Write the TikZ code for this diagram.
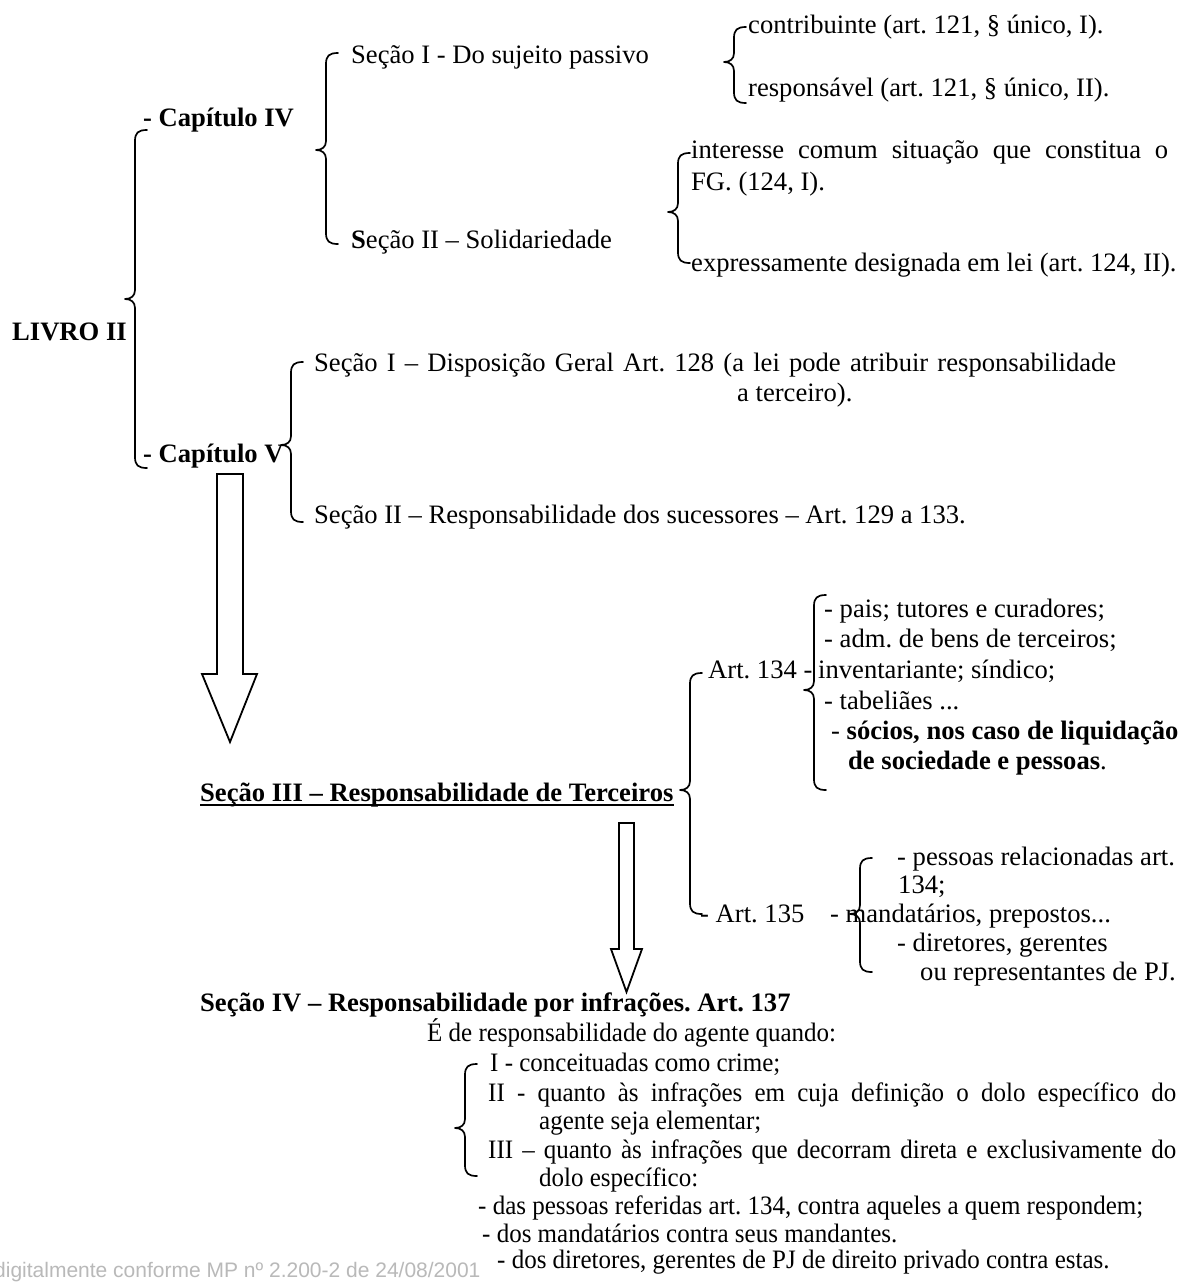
\documentclass[tikz,border=0pt]{standalone}
\usepackage{fontspec}
\setmainfont{Liberation Serif}
\newfontfamily\condfont[FakeStretch=0.94]{Liberation Serif}
\newfontfamily\wmfont{Liberation Sans}
\frenchspacing
\newcommand\wbrace[4]{% x, top, tip, bottom
\draw[brc] (#1+12,#2) .. controls (#1+3,#2) and (#1,#2+3) .. (#1,#2+11) -- (#1,#3-9) .. controls (#1,#3-3) and (#1-4,#3) .. (#1-10,#3) .. controls (#1-4,#3) and (#1,#3+3) .. (#1,#3+9) -- (#1,#4-11) .. controls (#1,#4-3) and (#1+3,#4) .. (#1+12,#4);}
\begin{document}
\begin{tikzpicture}[x=1pt,y=-1pt,
 txt/.style={anchor=base west, yshift=-8pt, inner sep=0pt, font=\fontsize{26.6}{30}\selectfont},
 ctxt/.style={anchor=base west, yshift=-8pt, inner sep=0pt, font=\condfont\fontsize{26.6}{28}\selectfont},
 brc/.style={line width=1.7pt, line cap=round, line join=round},
 blk/.style={line width=1.8pt, line join=miter, fill=white},
 wm/.style={anchor=base west, yshift=-7pt, inner sep=0pt, font=\wmfont\fontsize{21}{21}\selectfont, text=gray!55}]
\fill[white] (0,0) rectangle (1182,1283);
\useasboundingbox (0,0) rectangle (1182,1283);
% top part
\node[txt] (t1) at (748,25) {contribuinte (art. 121, § único, I).};
\node[txt] (t2) at (748,88) {responsável (art. 121, § único, II).};
\node[txt] (s1) at (351,55) {Seção I - Do sujeito passivo};
\node[txt] (c4) at (143,118) {\textbf{- Capítulo IV}};
\node[txt] (i1) at (691,150) {\makebox[477pt][s]{interesse comum situação que constitua o}};
\node[txt] (i2) at (691,182) {FG. (124, I).};
\node[txt] (s2) at (351,240) {\textbf{S}eção II – Solidariedade};
\node[txt] (e1) at (691,263) {expressamente designada em lei (art. 124, II).};
\node[txt] (l2) at (12,332) {\textbf{LIVRO II}};
\node[txt] (d1) at (314,363) {\makebox[802pt][s]{Seção I – Disposição Geral Art. 128 (a lei pode atribuir responsabilidade}};
\node[txt] (d2) at (737,393) {a terceiro).};
\node[txt] (c5) at (143,454) {\textbf{- Capítulo V}};
\node[txt] (r1) at (314,515) {Seção II – Responsabilidade dos sucessores – Art. 129 a 133.};
% art 134
\node[txt] (a134) at (708,670) {Art. 134 -};
\node[txt] (p1) at (824,609) {- pais; tutores e curadores;};
\node[txt] (p2) at (824,639) {- adm. de bens de terceiros;};
\node[txt] (p3) at (818,670) {inventariante; síndico;};
\node[txt] (p4) at (824,701) {- tabeliães ...};
\node[txt] (p5) at (831,731) {- \textbf{sócios, nos caso de liquidação}};
\node[txt] (p6) at (848,761) {\textbf{de sociedade e pessoas}.};
\node[txt] (s3) at (200,793) {\textbf{Seção III – Responsabilidade de Terceiros}};
\draw[line width=2.4pt] ([yshift=-4pt]s3.base west) -- ([yshift=-4pt]s3.base east);
% art 135
\node[txt] (q1) at (897,857) {- pessoas relacionadas art.};
\node[txt] (q2) at (898,885) {134;};
\node[txt] (a135) at (700,914) {- Art. 135};
\node[txt] (q3) at (830,914) {- mandatários, prepostos...};
\node[txt] (q4) at (897,943) {- diretores, gerentes};
\node[txt] (q5) at (920,972) {ou representantes de PJ.};
% section IV
\node[txt] (s4) at (200,1003) {\textbf{Seção IV – Responsabilidade por infrações. Art. 137}};
\node[ctxt] (b0) at (427,1033) {É de responsabilidade do agente quando:};
\node[ctxt] (b1) at (490,1063) {I - conceituadas como crime;};
\node[ctxt] (b2) at (488,1093) {\makebox[688pt][s]{II - quanto às infrações em cuja definição o dolo específico do}};
\node[ctxt] (b3) at (539,1121) {agente seja elementar;};
\node[ctxt] (b4) at (488,1150) {\makebox[688pt][s]{III – quanto às infrações que decorram direta e exclusivamente do}};
\node[ctxt] (b5) at (539,1178) {dolo específico:};
\node[ctxt] (b6) at (478,1206) {- das pessoas referidas art. 134, contra aqueles a quem respondem;};
\node[ctxt] (b7) at (482,1234) {- dos mandatários contra seus mandantes.};
\node[ctxt] (b8) at (497,1260) {- dos diretores, gerentes de PJ de direito privado contra estas.};
\node[wm] (wmk) at (-6,1270) {digitalmente conforme MP nº 2.200-2 de 24/08/2001};
% braces
\wbrace{326}{53}{150}{244}
\wbrace{734}{27}{62}{103}
\wbrace{678}{153}{212}{263}
\wbrace{135}{130}{299}{468}
\wbrace{291}{362}{445}{522}
\wbrace{690}{673}{790}{914}
\wbrace{814}{595}{690}{790}
\wbrace{860}{858}{914}{972}
\wbrace{465}{1064}{1128}{1176}
% block arrows
\draw[blk] (217,474) -- (243,474) -- (243,674) -- (257,674) -- (230,742) -- (202,674) -- (217,674) -- cycle;
\draw[blk] (619,823) -- (634,823) -- (634,949) -- (642,949) -- (626.5,992) -- (611,949) -- (619,949) -- cycle;
\end{tikzpicture}
\end{document}
